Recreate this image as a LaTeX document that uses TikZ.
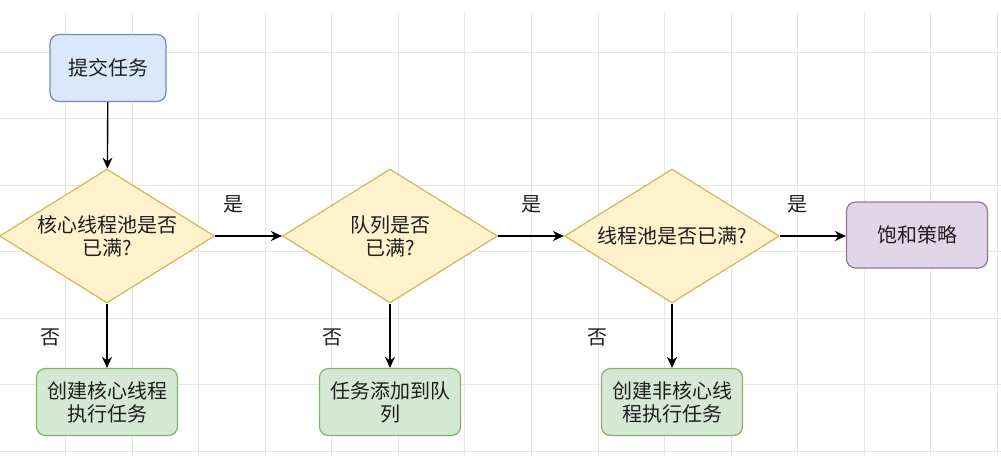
\documentclass[tikz,border=0pt]{standalone}
\usepackage{fontspec}
\setmainfont{Noto Sans CJK SC}
\usepackage{tikz}
\usetikzlibrary{positioning,arrows.meta,shapes.geometric}
\definecolor{startfill}{HTML}{DAE8FC}
\definecolor{startline}{HTML}{6C8EBF}
\definecolor{askfill}{HTML}{FFF2CC}
\definecolor{askline}{HTML}{D6B656}
\definecolor{dofill}{HTML}{D5E8D4}
\definecolor{doline}{HTML}{82B366}
\definecolor{endfill}{HTML}{E1D5E7}
\definecolor{endline}{HTML}{9673A6}
\definecolor{gridgray}{HTML}{E6E6E6}
\definecolor{textgray}{HTML}{1E1E1E}
\tikzset{
  flowbox/.style={draw, rounded corners=9pt, align=center, line width=1.2pt,
    text=textgray, font=\fontsize{20}{23}\selectfont, inner sep=2pt},
  startbox/.style={flowbox, fill=startfill, draw=startline, minimum width=116pt, minimum height=67pt},
  dobox/.style={flowbox, fill=dofill, draw=doline, minimum width=141pt, minimum height=67pt},
  endbox/.style={flowbox, fill=endfill, draw=endline, minimum width=141pt, minimum height=66pt},
  askbox/.style={draw=askline, fill=askfill, diamond, aspect=1.6, align=center,
    line width=1.2pt, inner sep=0pt, text=textgray, font=\fontsize{20}{23}\selectfont,
    minimum width=215pt, minimum height=134pt},
  flowarrow/.style={-{Stealth[length=11pt, width=10pt, inset=3.5pt]}, line width=1.4pt, black},
  flowlabel/.style={font=\fontsize{20}{23}\selectfont, text=textgray, inner sep=0pt},
}

\begin{document}
\begin{tikzpicture}[x=1pt, y=-1pt]
  \useasboundingbox (0,0) rectangle (1001,456);
  % grid
  \foreach \k in {0,...,15}
    \draw[gridgray, line width=0.8pt] ({-1+66.55*\k},12) -- ({-1+66.55*\k},456);
  \foreach \k in {0,...,6}
    \draw[gridgray, line width=0.8pt] (0,{52+66.5*\k}) -- (1001,{52+66.5*\k});

  \node[startbox] (submit) at (108,68) {提交任务};
  \node[askbox] (askcore) at (107,236) {核心线程池是否\\已满?};
  \node[askbox] (askqueue) at (390,236) {队列是否\\已满?};
  \node[askbox] (askpool) at (672,236) {线程池是否已满?};
  \node[endbox] (reject) at (917,235) {饱和策略};
  \node[dobox] (core) at (107,402) {创建核心线程\\执行任务};
  \node[dobox] (queue) at (390,402) {任务添加到队\\列};
  \node[dobox] (extra) at (672,402) {创建非核心线\\程执行任务};

  \draw[flowarrow] (submit) -- (askcore);
  \draw[flowarrow] (askcore.east) -- (askqueue.west);
  \draw[flowarrow] (askqueue.east) -- (askpool.west);
  \draw[flowarrow] (askpool.east) -- (reject.west |- askpool.east);
  \draw[flowarrow] (askcore.south) -- (core);
  \draw[flowarrow] (askqueue.south) -- (queue);
  \draw[flowarrow] (askpool.south) -- (extra);

  \node[flowlabel] (yescore) at (233,204) {是};
  \node[flowlabel] (yesqueue) at (531,204) {是};
  \node[flowlabel] (yespool) at (797,204) {是};
  \node[flowlabel] (nocore) at (50,337) {否};
  \node[flowlabel] (noqueue) at (332,337) {否};
  \node[flowlabel] (nopool) at (597,337) {否};
\end{tikzpicture}
\end{document}
